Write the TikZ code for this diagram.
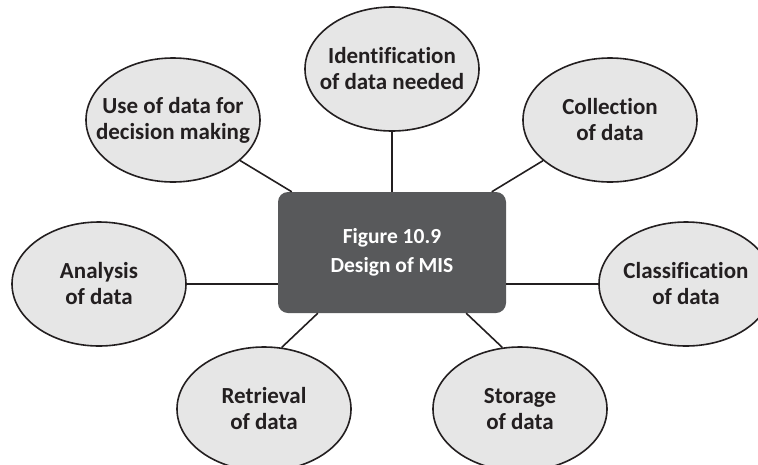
\documentclass[tikz,border=0pt]{standalone}
\usepackage{fontspec}
\setmainfont{Carlito}[Ligatures=NoCommon]
\usetikzlibrary{shapes.geometric}
\definecolor{efill}{HTML}{E6E6E6}
\definecolor{edraw}{HTML}{231F20}
\definecolor{etext}{HTML}{231F20}
\definecolor{bfill}{HTML}{58595B}
\begin{document}
\begin{tikzpicture}[x=1pt,y=-1pt,
  bub/.style={ellipse, draw=edraw, fill=efill, line width=1.6pt,
    minimum width=174pt, minimum height=124pt, inner sep=-25pt, align=center,
    text=etext, font=\bfseries\fontsize{23}{26}\selectfont},
  hub/.style={rectangle, rounded corners=10pt, fill=bfill, draw=none,
    minimum width=228pt, minimum height=121pt, inner sep=0pt, align=center,
    text=white, font=\bfseries\fontsize{21.5}{29}\selectfont},
  link/.style={draw=edraw, line width=1.6pt}]
\useasboundingbox (0,0) rectangle (758,464);
\clip (0,0) rectangle (758,464);
\node[hub] (box) at (392,252.5) {Figure 10.9\\Design of MIS};
\node[bub] (ident) at (392,69) {Identification\\of data needed};
\node[bub] (use) at (173,120) {Use of data for\\decision making};
\node[bub] (coll) at (610,120) {Collection\\of data};
\node[bub] (anal) at (99,284) {Analysis\\of data};
\node[bub] (class) at (686,284) {Classification\\of data};
\node[bub] (retr) at (264,409) {Retrieval\\of data};
\node[bub] (stor) at (520,409) {Storage\\of data};
\draw[link] (ident.south) -- (ident.south |- box.north);
\draw[link] (use) -- (box);
\draw[link] (coll) -- (box);
\draw[link] (anal.east) -- (anal.east -| box.west);
\draw[link] (class.west) -- (class.west -| box.east);
\draw[link] (retr.74) -- ([xshift=40pt]box.south west);
\draw[link] (stor.106) -- ([xshift=-40pt]box.south east);
\end{tikzpicture}
\end{document}
